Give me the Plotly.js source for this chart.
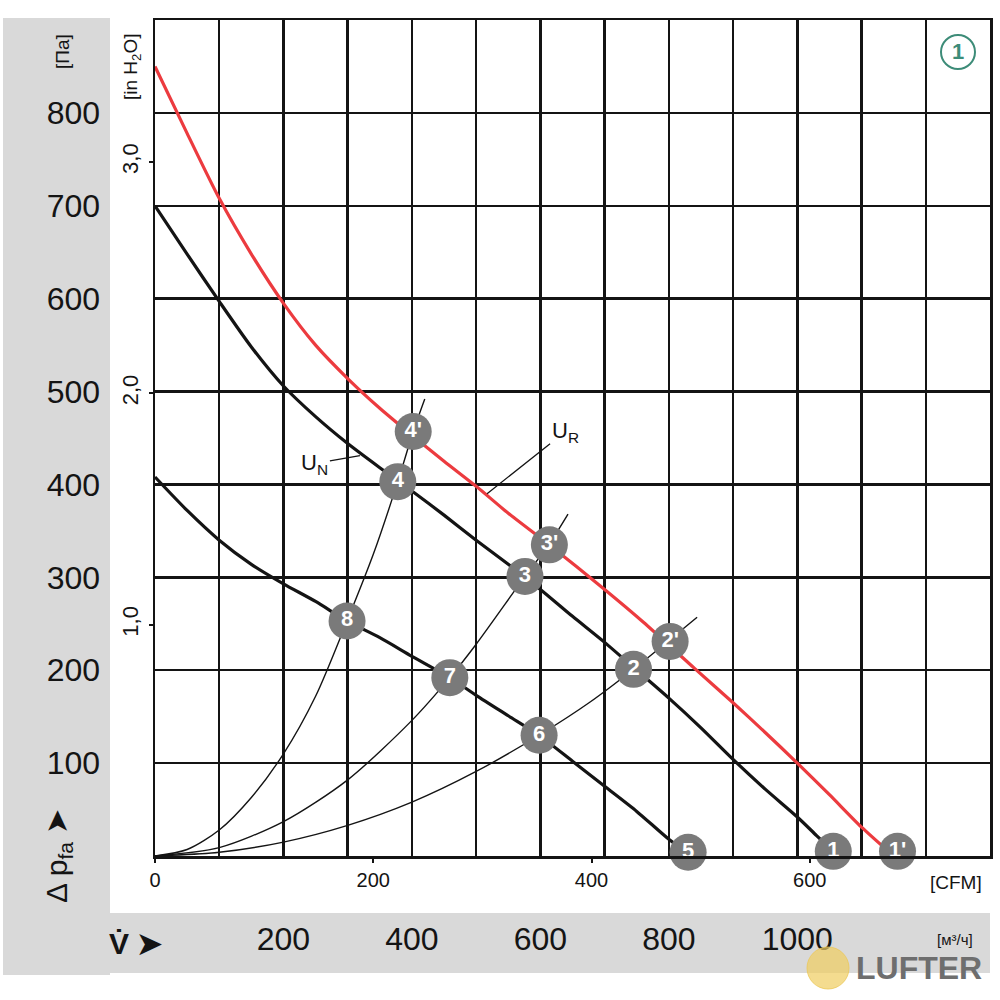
<!DOCTYPE html>
<html><head><meta charset="utf-8">
<script src="https://cdn.plot.ly/plotly-3.0.1.min.js"></script>
<style>html,body{margin:0;padding:0;background:#fff}#chart{width:1000px;height:1000px}</style>
</head><body><div id="chart"></div>
<script>
// Flow in m³/h, pressure in Pa
const flowUR = [0, 50, 100, 150, 200, 250, 300, 350, 400, 450, 500, 550, 612, 700, 760, 840, 900, 950, 1000, 1050, 1100, 1145];
const paUR   = [850, 778, 708, 648, 595, 550, 514, 482, 453, 425, 398, 369, 336, 287, 252, 202, 165, 133, 100, 66, 31, 3];

const flowUN = [0, 50, 100, 150, 200, 250, 300, 350, 400, 450, 500, 550, 600, 650, 700, 750, 800, 850, 900, 950, 1000, 1030, 1056];
const paUN   = [700, 648, 597, 548, 506, 473, 444, 418, 393, 367, 340, 314, 287, 258, 230, 200, 170, 138, 104, 72, 42, 22, 5];

const flowLow = [0, 50, 100, 150, 200, 250, 299, 350, 400, 459, 500, 550, 598, 650, 700, 750, 800, 830];
const paLow   = [408, 372, 340, 314, 293, 274, 253, 235, 215, 192, 173, 151, 130, 102, 75, 48, 18, 3];

const flowSysA = [0, 50, 100, 150, 200, 250, 299, 340, 378, 402, 420];
const paSysA   = [0, 7, 28, 63, 110, 172, 253, 325, 403, 457, 492];

const flowSysB = [0, 100, 200, 300, 400, 459, 500, 576, 614, 643];
const paSysB   = [0, 9, 37, 82, 146, 192, 228, 301, 336, 368];

const flowSysC = [0, 100, 200, 300, 400, 500, 598, 678, 745, 802, 844];
const paSysC   = [0, 4, 15, 33, 58, 91, 130, 166, 201, 233, 257];

const pointLabels = ["1", "1'", "2", "2'", "3", "3'", "4", "4'", "5", "6", "7", "8"];
const pointFlow   = [1056, 1156, 745, 802, 576, 614, 378, 402, 830, 598, 459, 299];
const pointPa     = [5, 5, 201, 231, 301, 335, 403, 457, 4, 130, 192, 253];

const m3hTicks = [0, 100, 200, 300, 400, 500, 600, 700, 800, 900, 1000, 1100, 1200, 1300];
const m3hTickText = ["", "", "200", "", "400", "", "600", "", "800", "", "1000", "", "", ""];
const paTicks = [0, 100, 200, 300, 400, 500, 600, 700, 800, 900];
const paTickText = ["", "100", "200", "300", "400", "500", "600", "700", "800", ""];
const cfmTicks = [0, 200, 400, 600];
const inh2oTicks = [1, 2, 3];
const inh2oTickText = ["1,0", "2,0", "3,0"];

const M3H_PER_CFM = 1.69901, PA_PER_INH2O = 249.089;
const X_MAX = 1300, Y_MAX = 900;

const SANS = "'Liberation Sans', Arial, sans-serif";
const INK = '#141414';

const sysLine = {color: INK, width: 1.4, shape: 'spline', smoothing: 0.8};
const traces = [
  {x: flowSysA, y: paSysA, mode: 'lines', line: sysLine, hoverinfo: 'skip'},
  {x: flowSysB, y: paSysB, mode: 'lines', line: sysLine, hoverinfo: 'skip'},
  {x: flowSysC, y: paSysC, mode: 'lines', line: sysLine, hoverinfo: 'skip'},
  {x: flowLow, y: paLow, mode: 'lines', line: {color: INK, width: 3.2, shape: 'spline', smoothing: 0.7}},
  {x: flowUN, y: paUN, mode: 'lines', line: {color: INK, width: 3.2, shape: 'spline', smoothing: 0.7}},
  {x: flowUR, y: paUR, mode: 'lines', line: {color: '#ec3b3f', width: 3.2, shape: 'spline', smoothing: 0.7}},
  {x: pointFlow, y: pointPa, text: pointLabels, mode: 'markers+text', textposition: 'middle center',
   marker: {size: 37, color: '#7a7a7a', line: {width: 0}},
   textfont: {color: '#ffffff', size: 22, family: SANS, weight: 'bold'},
   cliponaxis: false},
  {x: [0], y: [0], xaxis: 'x2', yaxis: 'y2', mode: 'markers', marker: {opacity: 0}, hoverinfo: 'skip'}
];

const px2x = px => (px - 155) / 835;
const py2y = py => (856 - py) / 836;
const GREY = '#d9d9d9';

function note(px, py, text, size, extra) {
  return Object.assign({xref: 'paper', yref: 'paper', x: px2x(px), y: py2y(py), text: text,
    showarrow: false, xanchor: 'center', yanchor: 'middle',
    font: {size: size, family: SANS, color: INK}}, extra || {});
}

const layout = {
  width: 1000, height: 1000,
  margin: {l: 155, r: 10, t: 20, b: 144},
  paper_bgcolor: '#ffffff', plot_bgcolor: '#ffffff',
  showlegend: false,
  font: {family: SANS, color: INK},
  xaxis: {
    range: [0, X_MAX], tickmode: 'array', tickvals: m3hTicks, ticktext: m3hTickText,
    showgrid: true, gridcolor: INK, gridwidth: 2.5, zeroline: false,
    showline: true, mirror: true, linecolor: INK, linewidth: 2.5,
    ticks: '', ticklabelstandoff: 53, tickfont: {size: 32, family: SANS, color: INK}
  },
  xaxis2: {
    overlaying: 'x', side: 'bottom', anchor: 'y',
    range: [0, X_MAX / M3H_PER_CFM], tickmode: 'array', tickvals: cfmTicks,
    showgrid: false, zeroline: false, showline: false,
    ticks: 'outside', ticklen: 6, tickwidth: 2, tickcolor: INK,
    tickfont: {size: 20, family: SANS, color: INK}
  },
  yaxis: {
    range: [0, Y_MAX], tickmode: 'array', tickvals: paTicks, ticktext: paTickText,
    showgrid: true, gridcolor: INK, gridwidth: 2.5, zeroline: false,
    showline: true, mirror: true, linecolor: INK, linewidth: 2.5,
    ticks: '', ticklabelstandoff: 46, tickfont: {size: 32, family: SANS, color: INK}
  },
  yaxis2: {
    overlaying: 'y', side: 'left', anchor: 'x',
    range: [0, Y_MAX / PA_PER_INH2O], tickmode: 'array', tickvals: inh2oTicks, ticktext: inh2oTickText,
    tickangle: -90, showgrid: false, zeroline: false, showline: false,
    ticks: 'outside', ticklen: 5, tickwidth: 2, tickcolor: INK, ticklabelstandoff: 2,
    tickfont: {size: 22, family: SANS, color: INK}
  },
  shapes: [
    {type: 'rect', xref: 'paper', yref: 'paper', x0: px2x(3), x1: px2x(110), y0: py2y(18), y1: py2y(975),
     fillcolor: GREY, line: {width: 0}, layer: 'below'},
    {type: 'rect', xref: 'paper', yref: 'paper', x0: px2x(3), x1: px2x(990), y0: py2y(913), y1: py2y(973),
     fillcolor: GREY, line: {width: 0}, layer: 'below'},
    {type: 'circle', xref: 'paper', yref: 'paper', x0: px2x(941), x1: px2x(975), y0: py2y(35), y1: py2y(69),
     line: {color: '#3d8c78', width: 2}, fillcolor: 'rgba(0,0,0,0)'},
    {type: 'circle', xref: 'paper', yref: 'paper', x0: px2x(807), x1: px2x(849), y0: py2y(947), y1: py2y(989),
     line: {color: 'rgba(235,200,90,0.8)', width: 1}, fillcolor: 'rgba(240,205,95,0.7)'}
  ],
  annotations: [
    {xref: 'x', yref: 'y', x: 319, y: 431, ax: -45, ay: 8, text: 'U<sub>N</sub>', showarrow: true,
     arrowhead: 0, arrowwidth: 1.3, arrowcolor: INK, standoff: 0, font: {size: 22, family: SANS, color: INK}},
    {xref: 'x', yref: 'y', x: 517, y: 390, ax: 78, ay: -62, text: 'U<sub>R</sub>', showarrow: true,
     arrowhead: 0, arrowwidth: 1.3, arrowcolor: INK, standoff: 0, font: {size: 22, family: SANS, color: INK}},
    note(958, 52, '<b>1</b>', 22, {font: {size: 22, family: SANS, color: '#3d8c78'}}),
    note(956, 882, '[CFM]', 19),
    note(955, 939, '[м³/ч]', 15),
    note(63, 52, '[Па]', 19, {textangle: -90}),
    note(132, 67, '[in H<sub>2</sub>O]', 19, {textangle: -90}),
    note(58, 856, 'Δ p<sub>fa</sub> ➤', 30, {textangle: -90}),
    note(135, 943, '<b>V̇ ➤</b>', 30),
    note(919, 968, '<b>LUFTER</b>', 32, {font: {size: 32, family: SANS, color: '#6e6e6e'}})
  ]
};

Plotly.newPlot('chart', traces, layout, {staticPlot: true, displayModeBar: false});
</script>
</body></html>
